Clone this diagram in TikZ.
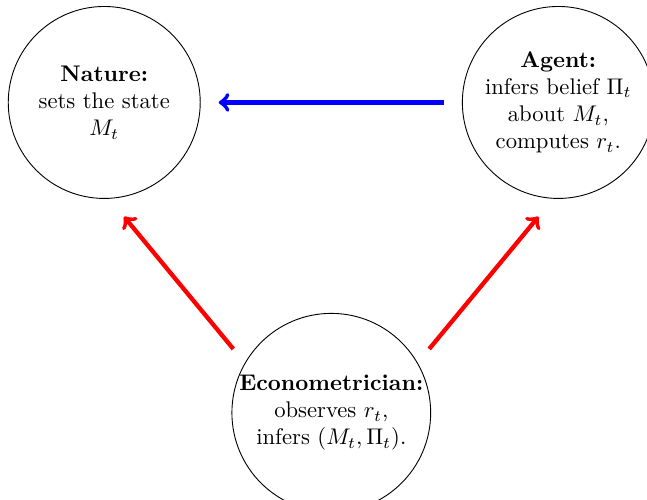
\documentclass[tikz,border=0pt]{standalone}
\usepackage{amsmath}
\usepackage{amssymb}
\usepackage{tikz}

\begin{document}
\begin{tikzpicture}[scale=0.93, >=stealth,
        player/.style={draw, circle, minimum size=2.98cm, inner sep=0pt, align=center},
        flow/.style={-to, line width=1.9pt, shorten >=0.28cm, shorten <=0.28cm}]
        \useasboundingbox (0,0) rectangle (10.8,8.33);

        % Ba vòng tròn
        \node[player] (nature) at (1.74, 6.62) {\textbf{Nature:}\\ sets the state\\ $M_t$};
        \node[player] (agent) at (9.32, 6.62) {\textbf{Agent:}\\ infers belief $\Pi_t$\\ about $M_t$,\\ computes $r_t$.};
        \node[player] (econ) at (5.53, 1.44) {\textbf{Econometrician:}\\ observes $r_t$,\\ infers $(M_t, \Pi_t)$.};

        % Mũi tên xanh: Agent -> Nature
        \draw[flow, blue] (agent.west) -- (nature.east);

        % Mũi tên đỏ từ Econometrician
        \draw[flow, red, shorten >=0.36cm] (econ.150) -- (nature.273);
        \draw[flow, red, shorten >=0.36cm] (econ.30) -- (agent.267);
    \end{tikzpicture}
\end{document}
